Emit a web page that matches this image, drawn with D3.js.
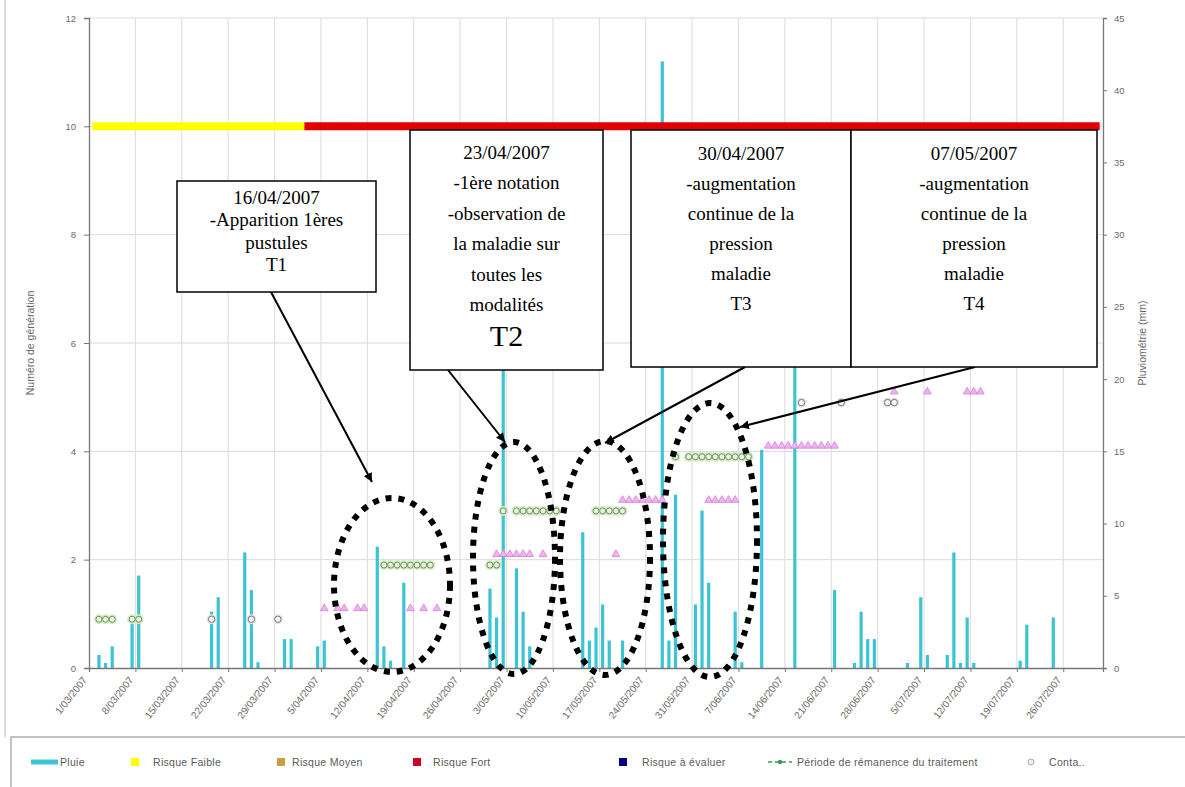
<!DOCTYPE html>
<html><head><meta charset="utf-8">
<script src="https://cdn.jsdelivr.net/npm/d3@7"></script>
<style>body{margin:0;background:#fff}svg{display:block}</style>
</head><body>
<svg id="c" width="1185" height="787"></svg>
<script>
// ---------- DATA ----------
const tickLabels = ["1/03/2007","8/03/2007","15/03/2007","22/03/2007","29/03/2007","5/04/2007","12/04/2007","19/04/2007","26/04/2007","3/05/2007","10/05/2007","17/05/2007","24/05/2007","31/05/2007","7/06/2007","14/06/2007","21/06/2007","28/06/2007","5/07/2007","12/07/2007","19/07/2007","26/07/2007"];
const leftTicks = [0,2,4,6,8,10,12];
const rightTicks = [0,5,10,15,20,25,30,35,40,45];

const rainDates = ["02/03","03/03","04/03","07/03","08/03","19/03","20/03","24/03","25/03","26/03","30/03","31/03","04/04","05/04","13/04","14/04","15/04","17/04","30/04","01/05","02/05","04/05","05/05","06/05","14/05","15/05","16/05","17/05","18/05","20/05","26/05","27/05","28/05","31/05","01/06","02/06","06/06","07/06","10/06","15/06","21/06","24/06","25/06","26/06","27/06","02/07","04/07","05/07","08/07","09/07","10/07","11/07","12/07","19/07","20/07","24/07"];
const rainValues = [0.9,0.35,1.5,3.5,6.4,3.9,4.9,8.0,5.4,0.4,2.0,2.0,1.5,1.9,8.4,1.5,0.5,5.9,5.5,3.5,26,6.9,3.9,1.5,9.4,1.9,2.8,4.4,1.9,1.9,42,1.9,12.0,4.4,10.9,5.9,3.9,0.4,15.1,26.5,5.4,0.35,3.9,2.0,2.0,0.35,4.9,0.9,0.9,8.0,0.35,3.5,0.35,0.5,3.0,3.5];

const riskFaibleDates = ["01/03","02/04"];
const riskFortDates = ["02/04","31/07"];
const riskLevel = 10;

const genDates = ["02/03","03/03","04/03","07/03","08/03",
  "14/04","15/04","16/04","17/04","18/04","19/04","20/04","21/04","30/04","01/05",
  "02/05","04/05","05/05","06/05","07/05","08/05","09/05","10/05","16/05","17/05","18/05","19/05","20/05",
  "28/05","30/05","31/05","01/06","02/06","03/06","04/06","05/06","06/06","07/06","08/06",
  "02/07","03/07","04/07","05/07","10/07","11/07","12/07","13/07",
  "21/07","22/07","23/07","24/07"];
const genValues = [0.9,0.9,0.9,0.9,0.9,
  1.9,1.9,1.9,1.9,1.9,1.9,1.9,1.9,1.9,1.9,
  2.9,2.9,2.9,2.9,2.9,2.9,2.9,2.9,2.9,2.9,2.9,2.9,2.9,
  3.9,3.9,3.9,3.9,3.9,3.9,3.9,3.9,3.9,3.9,3.9,
  5.9,5.9,5.9,5.9,5.9,5.9,5.9,5.9,
  6.9,6.9,6.9,6.9];

const contaDates = ["19/03","25/03","29/03","16/06","22/06","29/06","30/06"];
const contaValues = [0.9,0.9,0.9,4.9,4.9,4.9,4.9];

const pinkDates = ["05/04","07/04","08/04","10/04","11/04","18/04","20/04","22/04",
  "01/05","02/05","03/05","04/05","05/05","06/05","08/05","19/05",
  "20/05","21/05","22/05","23/05","24/05","25/05","26/05","02/06","03/06","04/06","05/06","06/06",
  "11/06","12/06","13/06","14/06","15/06","16/06","17/06","18/06","19/06","20/06","21/06",
  "30/06","05/07","11/07","12/07","13/07",
  "15/07","16/07","17/07","18/07","23/07","24/07","25/07","26/07"];
const pinkValues = [1.1,1.1,1.1,1.1,1.1,1.1,1.1,1.1,
  2.1,2.1,2.1,2.1,2.1,2.1,2.1,2.1,
  3.1,3.1,3.1,3.1,3.1,3.1,3.1,3.1,3.1,3.1,3.1,3.1,
  4.1,4.1,4.1,4.1,4.1,4.1,4.1,4.1,4.1,4.1,4.1,
  5.1,5.1,5.1,5.1,5.1,
  6.1,6.1,6.1,6.1,6.1,6.1,6.1,6.1];

const noteLines = [
  ["16/04/2007","-Apparition 1ères","pustules","T1"],
  ["23/04/2007","-1ère notation","-observation de","la maladie sur","toutes les","modalités","T2"],
  ["30/04/2007","-augmentation","continue de la","pression","maladie","T3"],
  ["07/05/2007","-augmentation","continue de la","pression","maladie","T4"]
];

const legendItems = ["Pluie","Risque Faible","Risque Moyen","Risque Fort","Risque à évaluer","Période de rémanence du traitement","Conta.."];

// ---------- CHART ----------
const svg = d3.select("#c");
const parse = s => d3.timeParse("%d/%m/%Y")(s + "/2007");
const x = d3.scaleTime().domain([new Date(2007,2,1), new Date(2007,7,1)]).range([89,1103]);
const xc = s => { const d = parse(s); return (x(d) + x(d3.timeDay.offset(d,1))) / 2; };
const yL = d3.scaleLinear().domain([0,12]).range([668,18]);
const yR = d3.scaleLinear().domain([0,45]).range([668,18]);
const tickDates = tickLabels.map(t => d3.timeParse("%d/%m/%Y")(t));
const SANS = "Liberation Sans, Arial, sans-serif";

svg.append("rect").attr("width",1185).attr("height",787).attr("fill","#fff");
svg.append("line").attr("x1",5).attr("x2",5).attr("y1",0).attr("y2",737).attr("stroke","#ddd").attr("stroke-width",2);

// grid
svg.append("g").selectAll("line").data(leftTicks.filter(v=>v>0)).join("line")
  .attr("x1",89).attr("x2",1103).attr("y1",d=>yL(d)).attr("y2",d=>yL(d))
  .attr("stroke","#d9d9d9").attr("stroke-width",1);
svg.append("g").selectAll("line").data(tickDates.slice(1)).join("line")
  .attr("x1",d=>x(d)).attr("x2",d=>x(d)).attr("y1",18).attr("y2",668)
  .attr("stroke","#e0e0e0").attr("stroke-width",1.2);

// bars
svg.append("g").selectAll("rect").data(rainDates.map((d,i)=>({d,v:rainValues[i]}))).join("rect")
  .attr("x",d=>xc(d.d)-1.6).attr("width",3.2)
  .attr("y",d=>yR(d.v)).attr("height",d=>668-yR(d.v))
  .attr("fill","#3cc4d4");

// axes
const axL = svg.append("g").attr("transform","translate(89,0)")
  .call(d3.axisLeft(yL).tickValues(leftTicks).tickSize(5).tickPadding(8).tickFormat(d3.format("d")));
const axR = svg.append("g").attr("transform","translate(1103,0)")
  .call(d3.axisRight(yR).tickValues(rightTicks).tickSize(4).tickPadding(7));
const axB = svg.append("g").attr("transform","translate(0,668)")
  .call(d3.axisBottom(x).tickValues(tickDates).tickFormat((d,i)=>tickLabels[i]).tickSize(4));
[axL,axR,axB].forEach(a=>{
  a.selectAll(".domain").attr("stroke","#777").attr("stroke-width",1.3);
  a.selectAll(".tick line").attr("stroke","#777");
  a.selectAll("text").attr("font-family",SANS).attr("font-size",9.5).attr("fill","#6a6a6a");
});
axB.selectAll("text").attr("text-anchor","end").attr("dy",0).attr("dx",0).attr("y",0)
  .attr("transform","translate(-2,12) rotate(-52)").attr("font-size",10);

svg.append("text").attr("transform","translate(34,343) rotate(-90)").attr("text-anchor","middle")
  .attr("font-family",SANS).attr("font-size",10.5).attr("fill","#666").text("Numéro de génération");
svg.append("text").attr("transform","translate(1146,343) rotate(-90)").attr("text-anchor","middle")
  .attr("font-family",SANS).attr("font-size",10.5).attr("fill","#666").text("Pluviométrie (mm)");

// risk line
const riskLine = d3.line().x(s=>xc(s)).y(()=>yL(riskLevel));
svg.append("path").attr("d",riskLine(riskFaibleDates)).attr("stroke","#ffff00").attr("stroke-width",8).attr("fill","none");
svg.append("path").attr("d",riskLine(riskFortDates)).attr("stroke","#e00000").attr("stroke-width",8).attr("fill","none");

// markers
const gm = svg.append("g");
const gen = genDates.map((d,i)=>({d,v:genValues[i]}));
const con = contaDates.map((d,i)=>({d,v:contaValues[i]}));
gm.append("g").selectAll("circle").data(gen).join("circle")
  .attr("cx",d=>xc(d.d)).attr("cy",d=>yL(d.v)).attr("r",5).attr("fill","#d3ecc3");
gm.append("g").selectAll("circle").data(gen).join("circle")
  .attr("cx",d=>xc(d.d)).attr("cy",d=>yL(d.v)).attr("r",3).attr("fill","#e8f4dc").attr("stroke","#6f8f62").attr("stroke-width",1);
gm.append("g").selectAll("circle").data(con).join("circle")
  .attr("cx",d=>xc(d.d)).attr("cy",d=>yL(d.v)).attr("r",5).attr("fill","#e4e4e4");
gm.append("g").selectAll("circle").data(con).join("circle")
  .attr("cx",d=>xc(d.d)).attr("cy",d=>yL(d.v)).attr("r",3.2).attr("fill","#f4f4f4").attr("stroke","#777").attr("stroke-width",1);
gm.append("g").selectAll("path").data(pinkDates.map((d,i)=>({d,v:pinkValues[i]}))).join("path")
  .attr("transform",d=>`translate(${xc(d.d)},${yL(d.v)})`)
  .attr("d",d3.symbol(d3.symbolTriangle,26)).attr("fill","#efb3ef").attr("stroke","#d77fd7").attr("stroke-width",0.8);

// annotations
const boxes = [
  {x:177,y:181,w:199,h:111,fs:[19,19,19,19],lh:22.5,top:197},
  {x:410,y:130,w:193,h:240,fs:[19,19,19,19,19,19,30],lh:30.5,top:152},
  {x:631,y:130,w:220,h:237,fs:[19,19,19,19,19,19],lh:30,top:153},
  {x:851,y:130,w:246,h:237,fs:[19,19,19,19,19,19],lh:30,top:153}
];
const ellipses = [
  {cx:392,cy:585,rx:58,ry:87},
  {cx:514,cy:558,rx:41,ry:116},
  {cx:605,cy:558,rx:45,ry:117},
  {cx:710,cy:540,rx:47,ry:137}
];
const arrowStarts = [[271,292],[448,370],[745,367],[975,367]];
const arrowEnds = [[372,482],[505,442],[605,443],[740,427]];

svg.append("defs").append("marker").attr("id","ah").attr("viewBox","0 0 10 10").attr("refX",10).attr("refY",5)
  .attr("markerWidth",9).attr("markerHeight",9).attr("markerUnits","userSpaceOnUse").attr("orient","auto")
  .append("path").attr("d","M0,0 L10,5 L0,10 z").attr("fill","#000");

const ga = svg.append("g");
ellipses.forEach(e=>{
  ga.append("ellipse").attr("cx",e.cx).attr("cy",e.cy).attr("rx",e.rx).attr("ry",e.ry)
    .attr("fill","none").attr("stroke","#000").attr("stroke-width",6).attr("stroke-dasharray","6,7");
});
noteLines.forEach((lines,i)=>{
  const b = boxes[i];
  ga.append("line").attr("x1",arrowStarts[i][0]).attr("y1",arrowStarts[i][1])
    .attr("x2",arrowEnds[i][0]).attr("y2",arrowEnds[i][1]).attr("stroke","#000").attr("stroke-width",2)
    .attr("marker-end","url(#ah)");
  ga.append("rect").attr("x",b.x).attr("y",b.y).attr("width",b.w).attr("height",b.h)
    .attr("fill","#fff").attr("stroke","#000").attr("stroke-width",1.5);
  lines.forEach((t,j)=>{
    ga.append("text").attr("x",b.x+b.w/2).attr("y",b.top+j*b.lh).attr("dy","0.35em")
      .attr("text-anchor","middle").attr("font-family","Liberation Serif, Times New Roman, serif")
      .attr("font-size",b.fs[j]).attr("fill","#000").text(t);
  });
});

// legend
const lg = svg.append("g");
lg.append("rect").attr("x",11).attr("y",737).attr("width",1180).attr("height",60).attr("fill","#fff").attr("stroke","#999").attr("stroke-width",1.2);
const lx = [60,153,292,433,642,797,1049];
const ly = 762;
lg.append("line").attr("x1",31).attr("x2",58).attr("y1",ly).attr("y2",ly).attr("stroke","#3cc4d4").attr("stroke-width",5);
lg.append("rect").attr("x",131).attr("y",ly-4).attr("width",8).attr("height",8).attr("fill","#ffff00");
lg.append("rect").attr("x",277).attr("y",ly-4).attr("width",8).attr("height",8).attr("fill","#c8a040");
lg.append("rect").attr("x",413).attr("y",ly-4).attr("width",8).attr("height",8).attr("fill","#cc0022");
lg.append("rect").attr("x",619).attr("y",ly-4).attr("width",8).attr("height",8).attr("fill","#000080");
lg.append("line").attr("x1",768).attr("x2",792).attr("y1",ly).attr("y2",ly).attr("stroke","#3a9a5a").attr("stroke-width",1.5).attr("stroke-dasharray","4,3");
lg.append("circle").attr("cx",780).attr("cy",ly).attr("r",2.2).attr("fill","#3a9a5a");
lg.append("circle").attr("cx",1031).attr("cy",ly).attr("r",3).attr("fill","#eee").attr("stroke","#aaa");
legendItems.forEach((t,i)=>{
  lg.append("text").attr("x",lx[i]).attr("y",ly).attr("dy","0.35em")
    .attr("font-family",SANS).attr("font-size",10.5).attr("letter-spacing",0.3).attr("fill","#5a5a5a").text(t);
});
</script>
</body></html>
